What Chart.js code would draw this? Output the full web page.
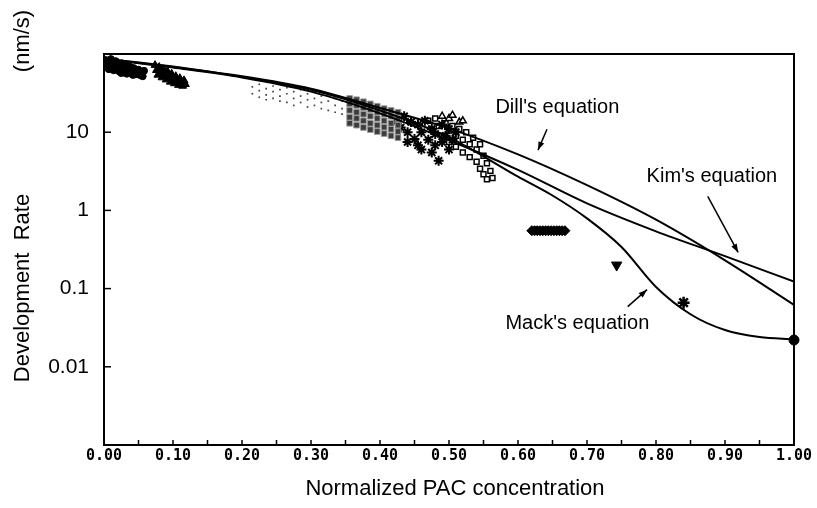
<!DOCTYPE html>
<html>
<head>
<meta charset="utf-8">
<script src="https://cdn.jsdelivr.net/npm/chart.js@4.4.0/dist/chart.umd.min.js"></script>
<style>
body { margin: 0; background: #fff; }
</style>
</head>
<body>
<canvas id="grafico" width="817" height="508"></canvas>
<script>
// Curvas de los modelos (concentracion PAC normalizada -> velocidad nm/s)
const curvaX = [0, 0.1, 0.2, 0.3, 0.4, 0.5, 0.6, 0.7, 0.8, 0.9, 1.0];
const dillY = [87, 68, 52, 36, 20.4, 11.2, 5.2, 2.1, 0.76, 0.23, 0.062];
const kimY = [87, 67, 50, 33, 17.4, 7.9, 3.3, 1.23, 0.54, 0.26, 0.123];
const mackX = [0, 0.1, 0.2, 0.3, 0.4, 0.5, 0.6, 0.65, 0.7, 0.75, 0.8, 0.85, 0.9, 0.95, 1.0];
const mackY = [87, 69, 51, 35, 19, 8.6, 2.7, 1.55, 0.79, 0.34, 0.105, 0.047, 0.0295, 0.024, 0.0224];

// Datos medidos
const puntosCirculo = [[0.002,84],[0.003,68],[0.004,76],[0.006,80],[0.007,64],[0.008,72],[0.01,86],[0.011,66],
  [0.012,77],[0.014,62],[0.015,70],[0.017,81],[0.019,63],[0.02,74],[0.022,60],[0.023,68],[0.025,57],[0.026,76],
  [0.028,66],[0.029,58],[0.031,71],[0.033,56],[0.034,64],[0.036,60],[0.037,69],[0.039,57],[0.04,62],[0.042,54],
  [0.043,66],[0.045,55],[0.046,60],[0.048,56],[0.05,63],[0.052,54],[0.054,58],[0.056,52],[0.058,61]];
const puntosTriangulo = [[0.074,72],[0.076,62],[0.078,54],[0.08,68],[0.082,58],[0.084,50],[0.086,64],[0.088,55],
  [0.09,47],[0.092,60],[0.094,51],[0.096,44],[0.098,56],[0.1,48],[0.102,42],[0.104,52],[0.106,45],[0.108,40],
  [0.11,49],[0.112,43],[0.114,39],[0.116,46],[0.118,41]];
const puntosFinos = [[0.215,38],[0.215,31],[0.225,34],[0.225,28],[0.225,41],[0.235,36],[0.235,30],[0.235,26],
  [0.245,39],[0.245,33],[0.245,27],[0.255,35],[0.255,29],[0.255,25],[0.265,37],[0.265,31],[0.265,24],
  [0.275,33],[0.275,27],[0.275,22],[0.285,35],[0.285,29],[0.285,24],[0.295,31],[0.295,26],[0.295,21],
  [0.305,33],[0.305,27],[0.305,22],[0.315,29],[0.315,24],[0.315,20],[0.325,30],[0.325,25],[0.325,19],
  [0.335,27],[0.335,22],[0.335,18],[0.345,25],[0.345,20],[0.345,17]];
const puntosGris = [[0.356,27],[0.356,23],[0.356,19],[0.356,15.5],[0.356,13],[0.366,26],[0.366,22],[0.366,18],
  [0.366,15],[0.366,12.3],[0.376,24.5],[0.376,20.5],[0.376,17],[0.376,14],[0.376,11.5],[0.386,23],[0.386,19.5],
  [0.386,16],[0.386,13],[0.386,10.8],[0.396,21.5],[0.396,18],[0.396,15],[0.396,12.3],[0.396,10.2],[0.406,20],
  [0.406,17],[0.406,14],[0.406,11.6],[0.406,9.6],[0.416,19],[0.416,16],[0.416,13],[0.416,10.9],[0.416,9],
  [0.426,18],[0.426,15],[0.426,12.3],[0.426,10.2],[0.426,8.5]];
const puntosAsterisco = [[0.425,14],[0.43,11.5],[0.435,16],[0.44,10],[0.445,13.5],[0.45,8.2],[0.455,12.5],[0.46,10],
  [0.46,6],[0.465,14],[0.47,8],[0.475,11],[0.475,5.5],[0.48,9.5],[0.48,6.8],[0.485,4.3],[0.49,12.5],[0.49,7.5],
  [0.495,9],[0.5,11],[0.5,6],[0.505,8],[0.51,10],[0.44,7.5],[0.455,6.8]];
const puntosCuadro = [[0.47,14],[0.475,11],[0.48,15],[0.485,12],[0.49,9],[0.495,13],[0.5,10.5],[0.5,7.5],[0.505,12],
  [0.51,9],[0.51,6.5],[0.515,11],[0.52,8],[0.52,5.5],[0.525,10],[0.53,7],[0.53,4.8],[0.535,8.5],[0.54,6],[0.54,4.2],
  [0.545,7],[0.545,3.4],[0.55,5],[0.55,2.9],[0.555,4],[0.555,2.5],[0.56,3.2],[0.563,2.6]];
const puntosTrianguloAbierto = [[0.49,16],[0.5,15],[0.505,16.5],[0.515,13.5],[0.52,14]];
const puntosBarra = [[0.62,0.55],[0.624,0.55],[0.628,0.55],[0.632,0.55],[0.636,0.55],[0.64,0.55],[0.644,0.55],
  [0.648,0.55],[0.652,0.55],[0.656,0.55],[0.66,0.55],[0.664,0.55],[0.668,0.55]];
const puntoTrianguloInv = [[0.743,0.2]];
const puntoEstrella = [[0.84,0.066]];
const puntoFinal = [[1.0,0.022]];

// Ejes
const valoresX = [0, 0.1, 0.2, 0.3, 0.4, 0.5, 0.6, 0.7, 0.8, 0.9, 1.0];
const etiquetasX = ['0.00','0.10','0.20','0.30','0.40','0.50','0.60','0.70','0.80','0.90','1.00'];
const menoresX = [0.05, 0.15, 0.25, 0.35, 0.45, 0.55, 0.65, 0.75, 0.85, 0.95];
const valoresY = [0.01, 0.1, 1, 10];
const etiquetasY = ['0.01', '0.1', '1', '10'];

// Anotaciones (en unidades de datos)
const notas = [
  { texto: "Dill's equation", x: 0.657, y: 21, desde: [0.642, 10.9], hasta: [0.629, 5.9] },
  { texto: "Kim's equation", x: 0.881, y: 2.73, desde: [0.875, 1.51], hasta: [0.919, 0.29] },
  { texto: "Mack's equation", x: 0.686, y: 0.0356, desde: [0.759, 0.0588], hasta: [0.787, 0.097] }
];

function pares(lista) {
  return lista.map(p => ({ x: p[0], y: p[1] }));
}
function curva(xs, ys) {
  return xs.map((v, i) => ({ x: v, y: ys[i] }));
}

const extras = {
  id: 'extras',
  afterDraw(chart) {
    const ctx = chart.ctx;
    const a = chart.chartArea;
    const sx = chart.scales.x;
    const sy = chart.scales.y;
    ctx.save();
    ctx.strokeStyle = '#000';
    ctx.fillStyle = '#000';

    // marco
    ctx.lineWidth = 2;
    ctx.strokeRect(a.left, a.top, a.right - a.left, a.bottom - a.top);

    // marcas hacia dentro
    ctx.lineWidth = 1.5;
    valoresX.concat(menoresX).forEach(v => {
      const px = sx.getPixelForValue(v);
      ctx.beginPath(); ctx.moveTo(px, a.bottom); ctx.lineTo(px, a.bottom - 5); ctx.stroke();
    });
    valoresY.forEach(v => {
      const py = sy.getPixelForValue(v);
      ctx.beginPath(); ctx.moveTo(a.left, py); ctx.lineTo(a.left + 7, py); ctx.stroke();
    });

    // titulos de ejes
    ctx.font = '22px "Liberation Sans", Arial, sans-serif';
    ctx.textAlign = 'center';
    ctx.textBaseline = 'middle';
    ctx.fillText('Normalized PAC concentration', 455, 489);
    ctx.save();
    ctx.translate(23, 288);
    ctx.rotate(-Math.PI / 2);
    ctx.fillText('Development  Rate', 0, 0);
    ctx.restore();
    ctx.save();
    ctx.translate(23, 41);
    ctx.rotate(-Math.PI / 2);
    ctx.fillText('(nm/s)', 0, 0);
    ctx.restore();

    // anotaciones con flechas
    ctx.font = '20px "Liberation Sans", Arial, sans-serif';
    ctx.lineWidth = 1.5;
    notas.forEach(n => {
      ctx.fillText(n.texto, sx.getPixelForValue(n.x), sy.getPixelForValue(n.y));
      const x1 = sx.getPixelForValue(n.desde[0]), y1 = sy.getPixelForValue(n.desde[1]);
      const x2 = sx.getPixelForValue(n.hasta[0]), y2 = sy.getPixelForValue(n.hasta[1]);
      ctx.beginPath(); ctx.moveTo(x1, y1); ctx.lineTo(x2, y2); ctx.stroke();
      const ang = Math.atan2(y2 - y1, x2 - x1);
      ctx.beginPath();
      ctx.moveTo(x2, y2);
      ctx.lineTo(x2 - 9 * Math.cos(ang - 0.35), y2 - 9 * Math.sin(ang - 0.35));
      ctx.lineTo(x2 - 9 * Math.cos(ang + 0.35), y2 - 9 * Math.sin(ang + 0.35));
      ctx.closePath();
      ctx.fill();
    });
    ctx.restore();
  }
};

const lineaBase = { showLine: true, pointRadius: 0, borderColor: '#000', borderWidth: 2, cubicInterpolationMode: 'monotone', fill: false };

new Chart('grafico', {
  type: 'scatter',
  data: {
    datasets: [
      Object.assign({ label: 'Dill', data: curva(curvaX, dillY) }, lineaBase),
      Object.assign({ label: 'Kim', data: curva(curvaX, kimY) }, lineaBase),
      Object.assign({ label: 'Mack', data: curva(mackX, mackY) }, lineaBase),
      { label: 'c', data: pares(puntosCirculo), pointStyle: 'circle', pointRadius: 3.5, backgroundColor: '#000', borderColor: '#000' },
      { label: 't', data: pares(puntosTriangulo), pointStyle: 'triangle', pointRadius: 4.5, backgroundColor: '#000', borderColor: '#000' },
      { label: 'f', data: pares(puntosFinos), pointStyle: 'rect', pointRadius: 1.2, backgroundColor: '#444', borderColor: '#444', borderWidth: 0 },
      { label: 'g', data: pares(puntosGris), pointStyle: 'rect', pointRadius: 4, backgroundColor: '#3c3c3c', borderColor: '#9a9a9a', borderWidth: 1 },
      { label: 'a', data: pares(puntosAsterisco), pointStyle: 'star', pointRadius: 5, backgroundColor: '#000', borderColor: '#000', borderWidth: 2 },
      { label: 'q', data: pares(puntosCuadro), pointStyle: 'rect', pointRadius: 3.5, backgroundColor: '#fff', borderColor: '#000', borderWidth: 1.5 },
      { label: 'o', data: pares(puntosTrianguloAbierto), pointStyle: 'triangle', pointRadius: 4, backgroundColor: '#fff', borderColor: '#000', borderWidth: 1.5 },
      { label: 'b', data: pares(puntosBarra), pointStyle: 'rectRot', pointRadius: 5, backgroundColor: '#000', borderColor: '#000' },
      { label: 'v', data: pares(puntoTrianguloInv), pointStyle: 'triangle', rotation: 180, pointRadius: 6, backgroundColor: '#000', borderColor: '#000' },
      { label: 's', data: pares(puntoEstrella), pointStyle: 'star', pointRadius: 6, backgroundColor: '#000', borderColor: '#000', borderWidth: 2.5 },
      { label: 'e', data: pares(puntoFinal), pointStyle: 'circle', pointRadius: 5, backgroundColor: '#000', borderColor: '#000', clip: false }
    ]
  },
  options: {
    responsive: false,
    animation: false,
    layout: { padding: { top: 54, right: 23, left: 0, bottom: 0 } },
    plugins: { legend: { display: false }, tooltip: { enabled: false } },
    scales: {
      x: {
        type: 'linear', min: 0, max: 1,
        grid: { display: false, drawTicks: false }, border: { display: false },
        afterFit: s => { s.height = 63; },
        afterBuildTicks: s => { s.ticks = valoresX.map(v => ({ value: v })); },
        ticks: {
          autoSkip: false, maxRotation: 0, padding: 2, color: '#000',
          font: { family: '"DejaVu Sans Mono", monospace', size: 15, weight: 'bold' },
          callback: (v, i) => etiquetasX[i]
        }
      },
      y: {
        type: 'logarithmic', min: 0.001, max: 100,
        grid: { display: false, drawTicks: false }, border: { display: false },
        afterFit: s => { s.width = 104; },
        afterBuildTicks: s => { s.ticks = valoresY.map(v => ({ value: v })); },
        ticks: {
          padding: 15, color: '#000',
          font: { family: '"Liberation Sans", Arial, sans-serif', size: 21 },
          callback: (v, i) => etiquetasY[i]
        }
      }
    }
  },
  plugins: [extras]
});
</script>
</body>
</html>
